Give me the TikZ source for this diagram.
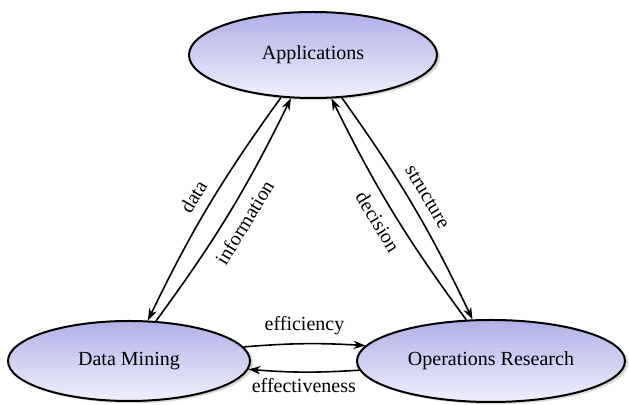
\documentclass[tikz,border=0pt]{standalone}
\usepackage{fontspec}
\setmainfont{Liberation Serif}
\usetikzlibrary{shapes.geometric,arrows.meta,shadows}
\definecolor{lavtop}{RGB}{176,176,232}
\definecolor{lavbot}{RGB}{240,240,252}

\begin{document}
\begin{tikzpicture}[x=0.5pt, y=-0.5pt, >={Stealth[length=6pt,width=4.2pt]},
  topic/.style={draw, ellipse, line width=1pt, top color=lavtop, bottom color=lavbot,
    drop shadow={shadow xshift=1.6pt, shadow yshift=-1.1pt, opacity=0.3}},
  flow/.style={->, line width=0.8pt},
  lbl/.style={font=\normalsize, inner sep=2pt}]
  \useasboundingbox (0,0) rectangle (629,405);

  % Topics
  \node[topic, minimum width=124pt, minimum height=43pt] (apps) at (313,55) {Applications};
  \node[topic, minimum width=121pt, minimum height=40pt] (dm) at (129,361) {Data Mining};
  \node[topic, minimum width=134pt, minimum height=41pt] (or) at (491,361) {Operations Research};

  % Applications <-> Data Mining
  \draw[flow] (apps.233) to[bend right=5] node[lbl, sloped, above=3pt] {data} (dm.65);
  \draw[flow] (dm.56) to[bend right=5] node[lbl, sloped, below=3pt] {information} (apps.243);

  % Applications <-> Operations Research
  \draw[flow] (or.121) to[bend left=5] node[lbl, sloped, below=3pt] {decision} (apps.293);
  \draw[flow] (apps.304) to[bend left=5] node[lbl, sloped, above=3pt] {structure} (or.114);

  % Data Mining <-> Operations Research
  \draw[flow] (dm.7) to[bend left=4] node[lbl, above=2pt] {efficiency} (or.173);
  \draw[flow] (or.184) to[bend left=4] node[lbl, below=1pt] {effectiveness} (dm.356);
\end{tikzpicture}
\end{document}
